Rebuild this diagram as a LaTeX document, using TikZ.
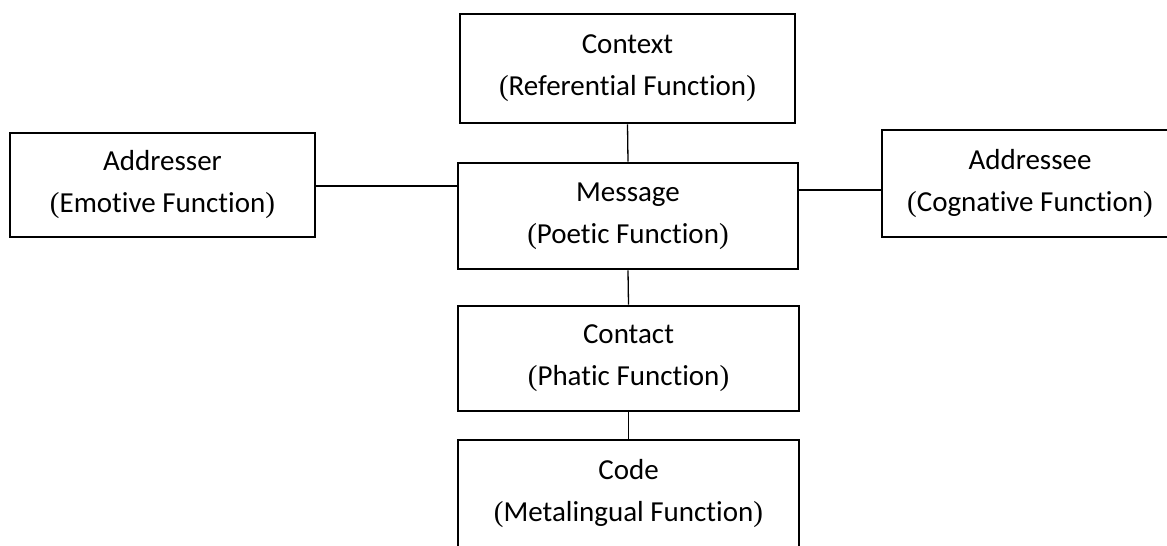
\documentclass[tikz,border=0pt]{standalone}
\usepackage{fontspec}
\setmainfont{Carlito}[Ligatures={NoCommon}]
\newfontfamily\pf{Liberation Serif}
\newcommand{\lp}{{\pf(}}
\newcommand{\rp}{{\pf)}}
\begin{document}
\begin{tikzpicture}[x=1pt,y=-1pt,
  fbox/.style={draw=black, line width=2.8pt, fill=white, align=center,
    font=\fontsize{29}{42}\selectfont, inner sep=0pt},
  link/.style={draw=black, line width=1.3pt}]
\useasboundingbox (0,0) rectangle (1167,546);
\node[fbox, minimum width=335pt, minimum height=109pt] (ctx) at (627.5,68.5) {Context\\\lp Referential Function\rp};
\node[fbox, minimum width=340pt, minimum height=106pt] (msg) at (628,216) {Message\\\lp Poetic Function\rp};
\node[fbox, minimum width=305pt, minimum height=104pt] (adr) at (162.5,185) {Addresser\\\lp Emotive Function\rp};
\node[fbox, minimum width=296pt, minimum height=107pt] (ade) at (1030,183.5) {Addressee\\\lp Cognative Function\rp};
\node[fbox, minimum width=341pt, minimum height=105pt] (con) at (628.5,358.5) {Contact\\\lp Phatic Function\rp};
\node[fbox, minimum width=341pt, minimum height=107pt] (code) at (628.5,493.5) {Code\\\lp Metalingual Function\rp};
\coordinate (lmid) at (0,186);
\coordinate (rmid) at (0,190);
\draw[link] (ctx.south) -- (msg.north);
\draw[link] (adr.east |- lmid) -- (msg.west |- lmid);
\draw[link] (msg.east |- rmid) -- (ade.west |- rmid);
\draw[link] (msg.south) -- (con.north);
\draw[link] (con.south) -- (code.north);
\end{tikzpicture}
\end{document}
